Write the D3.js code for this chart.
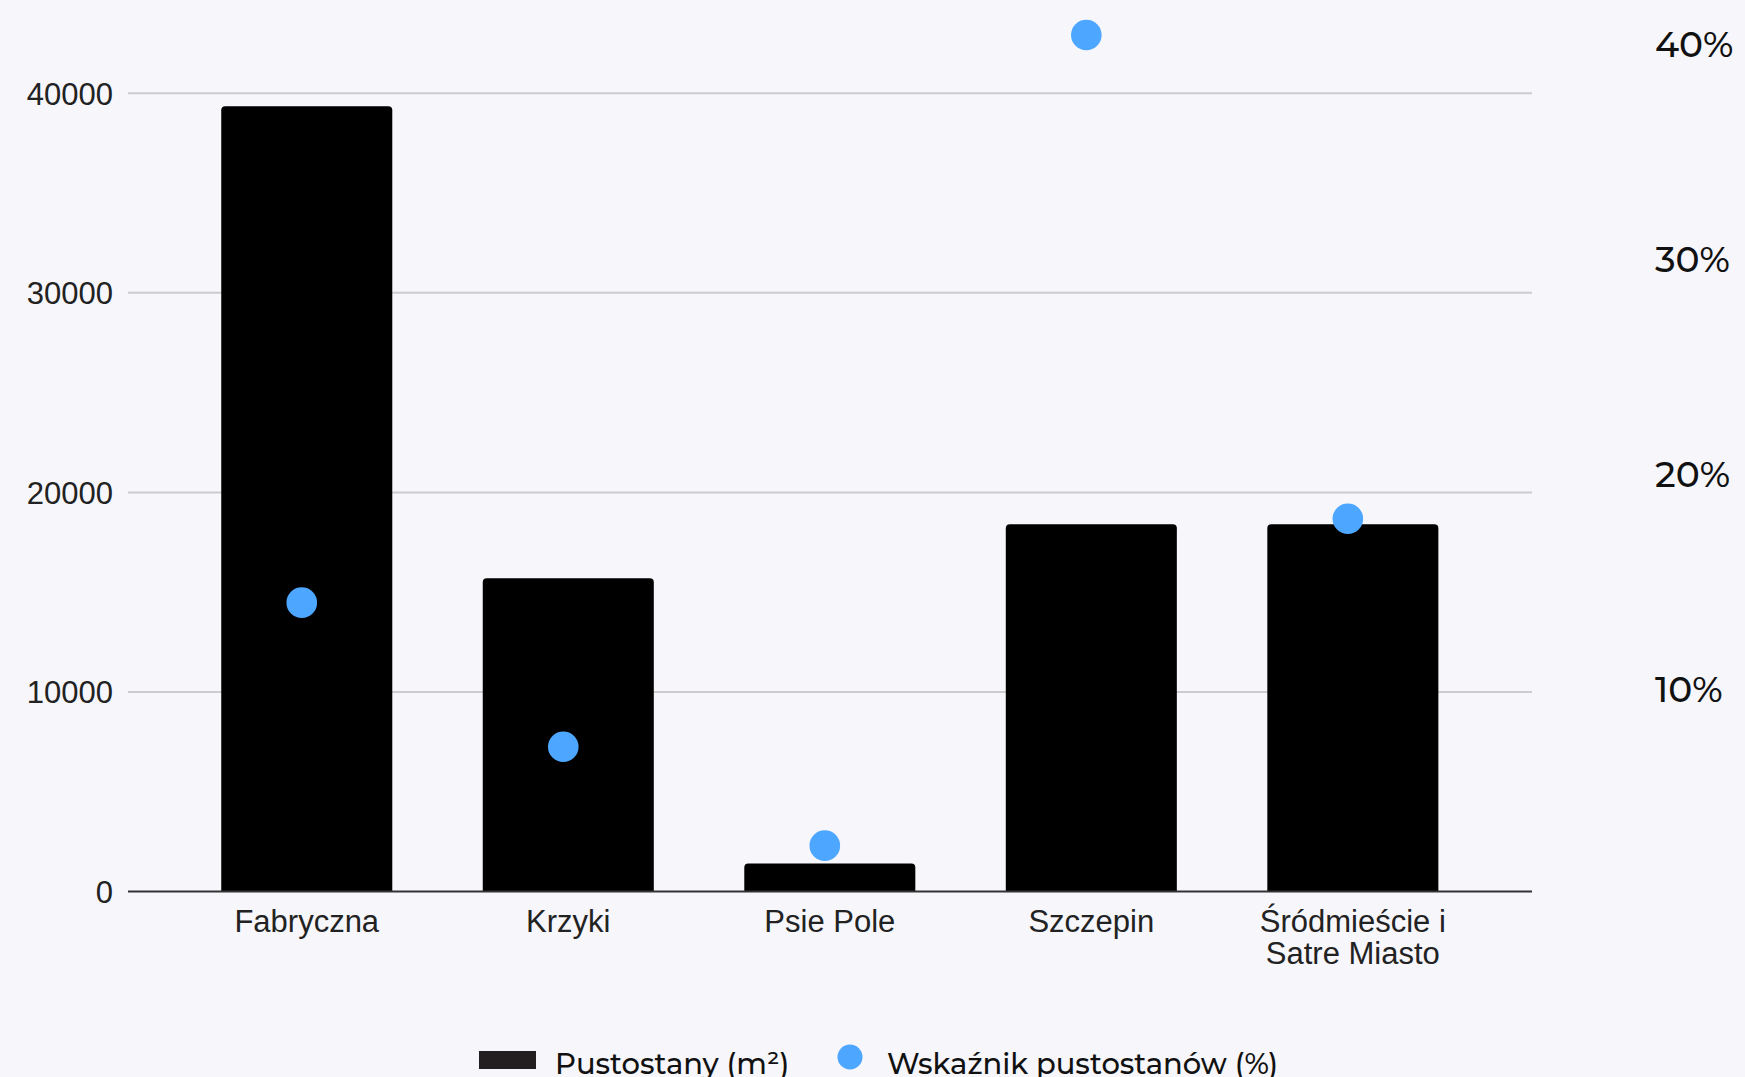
<!DOCTYPE html>
<html>
<head>
<meta charset="utf-8">
<script src="https://cdn.jsdelivr.net/npm/d3@7"></script>
<style>
  html, body { margin: 0; padding: 0; background: #f6f6fb; overflow: hidden; }
  svg { display: block; }
</style>
</head>
<body>
<svg id="chart" width="1745" height="1077"></svg>
<script>
const categories = ["Fabryczna", "Krzyki", "Psie Pole", "Szczepin", "Śródmieście i\nSatre Miasto"];
const areaValues = [39350, 15700, 1400, 18400, 18400];
const rateValues = [14.0, 7.3, 2.7, 40.4, 17.9];
const leftTicks = [0, 10000, 20000, 30000, 40000];
const rightTicks = [10, 20, 30, 40];
const legendLabels = ["Pustostany (m²)", "Wskaźnik pustostanów (%)"];

const svg = d3.select("#chart");
svg.append("rect").attr("width", 1745).attr("height", 1077).attr("fill", "#f6f6fb");

const plotLeft = 128, plotRight = 1532;
const x = d3.scaleBand().domain(categories).range([176, 1483.6]).paddingInner(0.346).paddingOuter(0.173);
const y = d3.scaleLinear().domain([0, 40000]).range([891.5, 93.3]);
const yR = d3.scaleLinear().domain([0, 40]).range([903.7, 43.6]);

// gridlines
svg.append("g").selectAll("line").data(leftTicks.filter(d => d > 0)).join("line")
  .attr("x1", plotLeft).attr("x2", plotRight)
  .attr("y1", d => y(d)).attr("y2", d => y(d))
  .attr("stroke", "#cccccc").attr("stroke-width", 2);

// left axis labels
const leftAxis = d3.axisLeft(y).tickValues(leftTicks).tickSize(0).tickPadding(0).tickFormat(d3.format("d"));
const gL = svg.append("g").attr("transform", "translate(113,0)").call(leftAxis);
gL.select(".domain").remove();
gL.selectAll("text").attr("font-family", "'Liberation Sans', Arial, sans-serif")
  .attr("font-size", 31).attr("fill", "#222").attr("dy", "0.35em");

// bars with rounded top
const r = 4;
svg.append("g").selectAll("path").data(categories).join("path")
  .attr("d", (c, i) => {
    const x0 = x(c), x1 = x(c) + x.bandwidth();
    const yt = y(areaValues[i]), yb = y(0);
    return `M${x0},${yb}V${yt + r}Q${x0},${yt} ${x0 + r},${yt}H${x1 - r}Q${x1},${yt} ${x1},${yt + r}V${yb}Z`;
  })
  .attr("fill", "#000");

// baseline
svg.append("line").attr("x1", plotLeft).attr("x2", plotRight)
  .attr("y1", y(0)).attr("y2", y(0)).attr("stroke", "#333").attr("stroke-width", 2);

// category labels
const gx = svg.append("g");
categories.forEach(c => {
  const lines = c.split("\n");
  const t = gx.append("text")
    .attr("x", x(c) + x.bandwidth() / 2).attr("y", 932)
    .attr("text-anchor", "middle")
    .attr("font-family", "'Liberation Sans', Arial, sans-serif")
    .attr("font-size", 31).attr("fill", "#222");
  lines.forEach((l, k) => {
    t.append("tspan").attr("x", x(c) + x.bandwidth() / 2).attr("dy", k === 0 ? 0 : 32).text(l);
  });
});

// dots
svg.append("g").selectAll("circle").data(categories).join("circle")
  .attr("cx", c => x(c) + x.bandwidth() / 2 - 5)
  .attr("cy", (c, i) => yR(rateValues[i]))
  .attr("r", 15.3)
  .attr("fill", "#4da6ff");

// right labels
svg.append("g").selectAll("text").data(rightTicks).join("text")
  .attr("x", 1655).attr("y", d => yR(d)).attr("dy", "0.36em")
  .attr("font-family", "Montserrat, 'DejaVu Sans', sans-serif")
  .attr("font-size", 36).attr("font-weight", 500).attr("fill", "#111")
  .text(d => d + "%");

// legend
const lg = svg.append("g");
lg.append("rect").attr("x", 479).attr("y", 1051).attr("width", 57).attr("height", 18).attr("fill", "#231f20");
lg.append("text").attr("x", 555).attr("y", 1074)
  .attr("font-family", "Montserrat, 'DejaVu Sans', sans-serif").attr("font-size", 29)
  .attr("font-weight", 500).attr("fill", "#111")
  .text(legendLabels[0]);
lg.append("circle").attr("cx", 850).attr("cy", 1057).attr("r", 12.5).attr("fill", "#4da6ff");
lg.append("text").attr("x", 887).attr("y", 1074)
  .attr("font-family", "Montserrat, 'DejaVu Sans', sans-serif").attr("font-size", 29)
  .attr("font-weight", 500).attr("fill", "#111")
  .text(legendLabels[1]);
</script>
</body>
</html>
